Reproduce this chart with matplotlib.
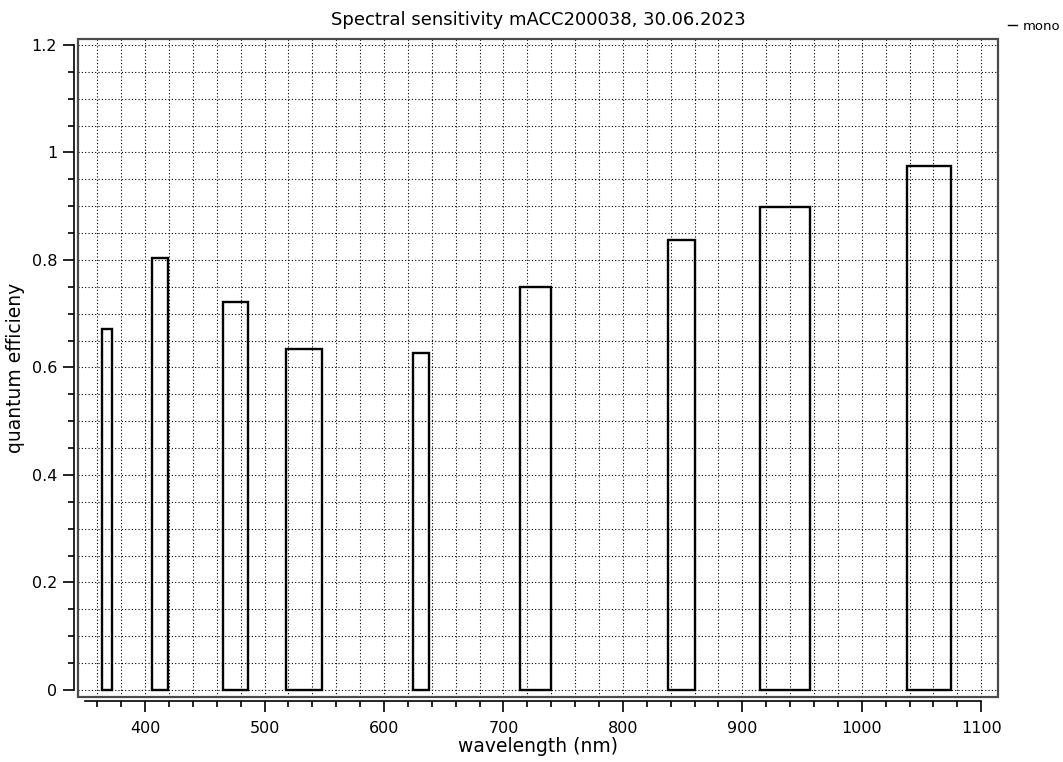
import matplotlib
matplotlib.use("Agg")
import matplotlib.pyplot as plt
from matplotlib.lines import Line2D
from matplotlib.patches import Rectangle
from matplotlib.ticker import MultipleLocator, FuncFormatter

# filter bands (nm) and measured quantum efficiency
band_lo = [364, 406, 465, 518, 624, 714, 838, 914.5, 1037.5]
band_hi = [372, 419, 486, 548, 638, 740, 860, 956.5, 1075]
qe = [0.672, 0.804, 0.721, 0.634, 0.626, 0.749, 0.838, 0.899, 0.975]

widths = [hi - lo for lo, hi in zip(band_lo, band_hi)]

fig = plt.figure(figsize=(10.63, 7.62), dpi=100)
ax = fig.add_axes([78 / 1063, 65 / 762, 920 / 1063, 658 / 762])

ax.bar(band_lo, qe, width=widths, align="edge", fill=False,
       edgecolor="black", linewidth=1.7, zorder=3)

ax.set_xlim(343.8, 1114)
ax.set_ylim(-0.013, 1.211)

# grid on the minor steps
for x in range(360, 1101, 20):
    ax.plot([x, x], [-0.013, 1.211], color="black", linestyle=(0, (1, 2)),
            linewidth=0.8, zorder=1)
for i in range(25):
    y = i * 0.05
    ax.plot([343.8, 1114], [y, y], color="black", linestyle=(0, (1, 2)),
            linewidth=0.8, zorder=1)

# detached axis lines, plot area framed separately
for side in ["top", "right"]:
    ax.spines[side].set_visible(False)
ax.spines["left"].set_position(("outward", 3))
ax.spines["bottom"].set_position(("outward", 3))
ax.spines["left"].set_bounds(0, 1.2)
ax.spines["bottom"].set_bounds(350, 1100)
ax.spines["left"].set_linewidth(1.2)
ax.spines["bottom"].set_linewidth(1.2)
ax.add_patch(Rectangle((0, 0), 1, 1, transform=ax.transAxes, fill=False,
                       edgecolor="#4a4a4a", linewidth=1.6, clip_on=False, zorder=4))

ax.xaxis.set_major_locator(MultipleLocator(100))
ax.xaxis.set_minor_locator(MultipleLocator(20))
ax.yaxis.set_major_locator(MultipleLocator(0.2))
ax.yaxis.set_minor_locator(MultipleLocator(0.05))
ax.yaxis.set_major_formatter(FuncFormatter(lambda v, p: f"{v:g}"))
ax.tick_params(which="major", length=8, width=1.2, labelsize=11.5, pad=4)
ax.tick_params(which="minor", length=4, width=1.2)
ax.tick_params(axis="x", which="major", pad=6)

ax.set_xlabel("wavelength (nm)", fontsize=13.5, labelpad=1)
ax.set_ylabel("quantum efficieny", fontsize=13.5, labelpad=5)
ax.set_title("Spectral sensitivity mACC200038, 30.06.2023", fontsize=13, pad=10)

handle = Line2D([], [], color="black", linewidth=1)
fig.legend([handle], ["mono"], loc="upper left", bbox_to_anchor=(1008 / 1063, 1 - 20 / 762),
           frameon=False, fontsize=9.5, handlelength=0.7, handletextpad=0.4,
           borderpad=0, borderaxespad=0)

fig.savefig("out.png", dpi=100)
